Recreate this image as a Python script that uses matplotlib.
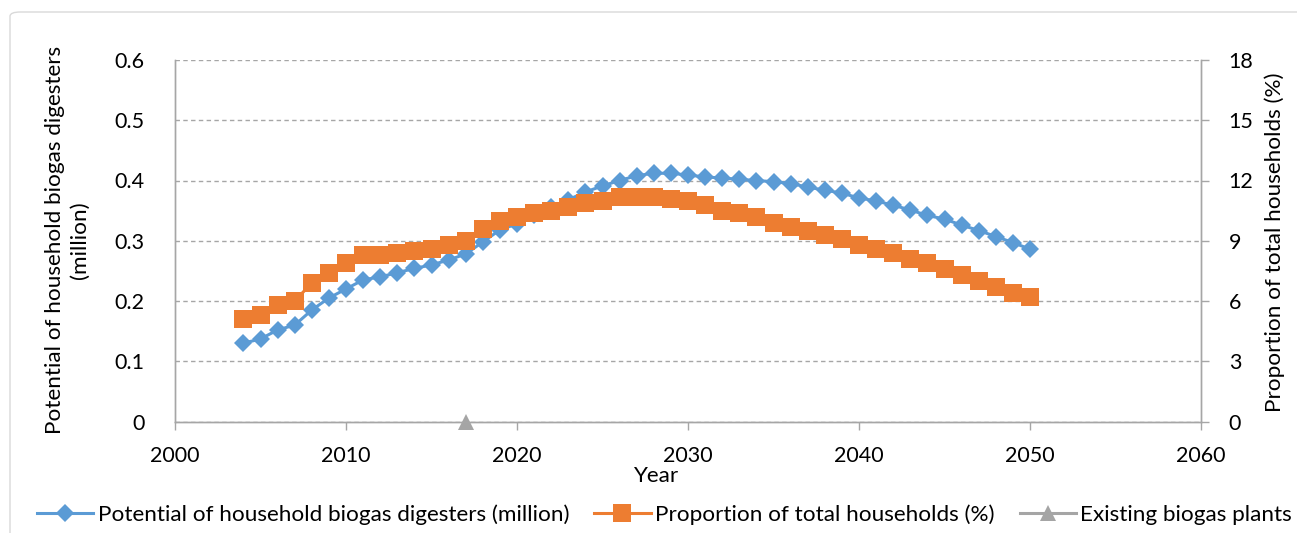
import matplotlib
matplotlib.use("Agg")
import matplotlib.pyplot as plt
from matplotlib.lines import Line2D
from matplotlib.patches import FancyBboxPatch

plt.rcParams['font.family'] = ['Lato', 'DejaVu Sans']

years = list(range(2004, 2051))

digesters_million = [
    0.130, 0.137, 0.152, 0.160, 0.185, 0.205, 0.220, 0.235, 0.240, 0.247,
    0.254, 0.260, 0.268, 0.278, 0.298, 0.318, 0.328, 0.342, 0.356, 0.368,
    0.381, 0.391, 0.400, 0.408, 0.412, 0.412, 0.409, 0.406, 0.404, 0.402,
    0.400, 0.398, 0.395, 0.389, 0.384, 0.379, 0.371, 0.366, 0.359, 0.351,
    0.342, 0.336, 0.326, 0.317, 0.307, 0.297, 0.286,
]

share_of_households_pct = [
    5.1, 5.3, 5.8, 6.0, 6.9, 7.4, 7.9, 8.3, 8.3, 8.4,
    8.5, 8.6, 8.8, 9.0, 9.6, 10.0, 10.2, 10.4, 10.5, 10.7,
    10.9, 11.0, 11.2, 11.2, 11.2, 11.1, 11.0, 10.8, 10.5, 10.4,
    10.2, 9.9, 9.7, 9.5, 9.3, 9.1, 8.8, 8.6, 8.4, 8.1,
    7.9, 7.6, 7.3, 7.0, 6.7, 6.4, 6.2,
]

existing_years = [2017]
existing_plants = [0]

x_ticks = [2000, 2010, 2020, 2030, 2040, 2050, 2060]
left_ticks = [0, 0.1, 0.2, 0.3, 0.4, 0.5, 0.6]
left_tick_labels = ["0", "0.1", "0.2", "0.3", "0.4", "0.5", "0.6"]
right_ticks = [0, 3, 6, 9, 12, 15, 18]

label_digesters = "Potential of household biogas digesters (million)"
label_share = "Proportion of total households (%)"
label_existing = "Existing biogas plants"

BLUE = "#5B9BD5"
ORANGE = "#ED7D31"
GREY = "#A5A5A5"
AXIS = "#A6A6A6"
FS_TICK = 15.5
FS_TEXT = 16.2

W, H = 1297, 533
fig = plt.figure(figsize=(W / 100, H / 100), dpi=100)

# chart-area frame
frame = FancyBboxPatch((10 / W, -0.2), 1.2, 1.2 - 12 / H,
                       boxstyle="round,pad=0,rounding_size=0.008",
                       transform=fig.transFigure, fill=False,
                       edgecolor="#D9D9D9", linewidth=1.0)
fig.patches.append(frame)

ax = fig.add_axes([175 / W, (H - 421.5) / H, (1201 - 175) / W, (421.5 - 60) / H])
ax2 = ax.twinx()

ax.set_xlim(2000, 2060)
ax.set_ylim(0, 0.6)
ax2.set_ylim(0, 18)

ax.set_xticks(x_ticks)
ax.set_xticklabels([str(v) for v in x_ticks])
ax.set_yticks(left_ticks)
ax.set_yticklabels(left_tick_labels)
ax2.set_yticks(right_ticks)
ax2.set_yticklabels([str(v) for v in right_ticks])

ax.yaxis.grid(True, color=AXIS, linestyle=(0, (3.2, 2.4)), linewidth=1.0)
ax.set_axisbelow(True)

for a in (ax, ax2):
    a.spines['top'].set_visible(False)
    for s in ('left', 'right', 'bottom'):
        a.spines[s].set_color(AXIS)
        a.spines[s].set_linewidth(1.0)

ax.tick_params(axis='x', direction='out', length=6, width=1.0, color=AXIS,
               labelsize=FS_TICK, pad=12)
ax.tick_params(axis='y', length=0, labelsize=FS_TICK, pad=22)
ax2.tick_params(axis='y', direction='out', length=6, width=1.0, color=AXIS,
                labelsize=FS_TICK, pad=14)

ax.plot(years, digesters_million, color=BLUE, linewidth=2.2,
        marker='D', markersize=9, markeredgewidth=0, zorder=3)
ax.plot(existing_years, existing_plants, color=GREY, linestyle='none',
        marker='^', markersize=11.5, markeredgewidth=0, clip_on=False, zorder=5)
ax2.plot(years, share_of_households_pct, color=ORANGE, linewidth=2.2,
         marker='s', markersize=12.5, markeredgewidth=0, zorder=3)

fig.text(55 / W, 1 - 240 / H, "Potential of household biogas digesters",
         rotation=90, ha='center', va='center', fontsize=FS_TEXT)
fig.text(80 / W, 1 - 240 / H, "(million)",
         rotation=90, ha='center', va='center', fontsize=FS_TEXT)
fig.text(1275 / W, 1 - 242 / H, label_share,
         rotation=90, ha='center', va='center', fontsize=FS_TEXT)
fig.text(656 / W, 1 - 476 / H, "Year", ha='center', va='center', fontsize=FS_TEXT)

handles = [
    Line2D([], [], color=BLUE, linewidth=2.2, marker='D', markersize=9, markeredgewidth=0),
    Line2D([], [], color=ORANGE, linewidth=2.2, marker='s', markersize=12.5, markeredgewidth=0),
    Line2D([], [], color=GREY, linewidth=2.2, marker='^', markersize=11.5, markeredgewidth=0),
]
fig.legend(handles, [label_digesters, label_share, label_existing],
           loc='center', bbox_to_anchor=(0.5 + 16 / W, 18 / H), ncol=3, frameon=False,
           fontsize=FS_TEXT, handlelength=2.5, handletextpad=0.2, columnspacing=1.12,
           borderaxespad=0, borderpad=0)

fig.savefig("out.png", dpi=100)
